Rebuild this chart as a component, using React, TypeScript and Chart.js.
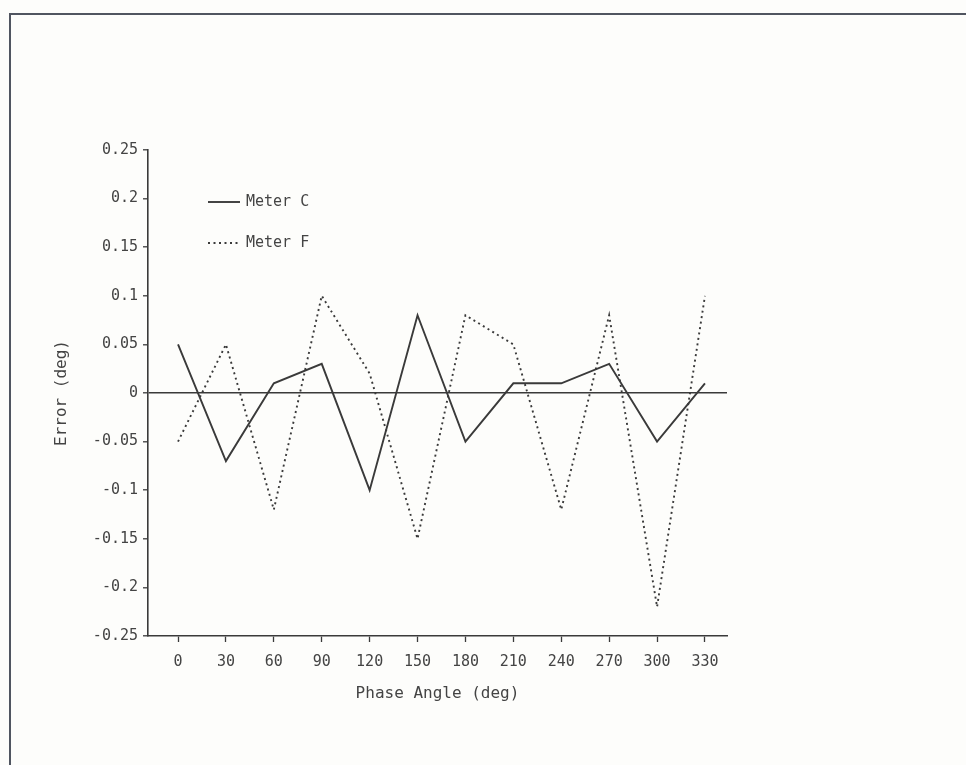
import React, { useEffect, useRef } from "react";
import { Chart, registerables } from "chart.js";

Chart.register(...registerables);

const phaseAngles = [0, 30, 60, 90, 120, 150, 180, 210, 240, 270, 300, 330];
const meterC = [0.05, -0.07, 0.01, 0.03, -0.1, 0.08, -0.05, 0.01, 0.01, 0.03, -0.05, 0.01];
const meterF = [-0.05, 0.05, -0.12, 0.1, 0.02, -0.15, 0.08, 0.05, -0.12, 0.08, -0.22, 0.1];
const seriesNames = ["Meter C", "Meter F"];
const xTitle = "Phase Angle (deg)";
const yTitle = "Error (deg)";

const INK = "#3a3a3a";
const TEXT = "#444444";
const FONT = "'DejaVu Sans Mono', monospace";

const legendPlugin = {
  id: "plotLegend",
  afterDraw(chart: any) {
    const ctx = chart.ctx;
    const area = chart.chartArea;
    const x0 = area.left + 60;
    const rows = [area.top + 52, area.top + 93];
    chart.data.datasets.forEach((ds: any, i: number) => {
      const y = rows[i];
      ctx.save();
      ctx.strokeStyle = ds.borderColor;
      ctx.lineWidth = ds.borderWidth;
      ctx.setLineDash(ds.borderDash || []);
      ctx.beginPath();
      ctx.moveTo(x0, y);
      ctx.lineTo(x0 + 32, y);
      ctx.stroke();
      ctx.setLineDash([]);
      ctx.fillStyle = TEXT;
      ctx.font = `15px ${FONT}`;
      ctx.textBaseline = "middle";
      ctx.textAlign = "left";
      ctx.fillText(ds.label, x0 + 38, y);
      ctx.restore();
    });
  },
};

export default function App() {
  const ref = useRef<HTMLCanvasElement | null>(null);

  useEffect(() => {
    document.body.style.background = "#fdfdfb";
    const canvas = ref.current!;
    const chart = new Chart(canvas, {
      type: "line",
      data: {
        datasets: [
          {
            label: seriesNames[0],
            data: phaseAngles.map((a, i) => ({ x: a, y: meterC[i] })),
            borderColor: INK,
            borderWidth: 1.9,
            pointRadius: 0,
            tension: 0,
          },
          {
            label: seriesNames[1],
            data: phaseAngles.map((a, i) => ({ x: a, y: meterF[i] })),
            borderColor: INK,
            borderWidth: 1.9,
            borderDash: [2, 3.5],
            pointRadius: 0,
            tension: 0,
          },
        ],
      },
      options: {
        animation: false,
        responsive: true,
        maintainAspectRatio: false,
        layout: { padding: { left: 50, top: 150, right: 239, bottom: 60 } },
        plugins: { legend: { display: false }, tooltip: { enabled: false } },
        scales: {
          x: {
            type: "linear",
            min: -18.8,
            max: 343.8,
            afterBuildTicks: (scale: any) => {
              scale.ticks = phaseAngles.map((v) => ({ value: v }));
            },
            afterFit: (scale: any) => {
              scale.height = 69;
            },
            grid: { drawOnChartArea: false, drawTicks: true, tickLength: 6, tickColor: INK, tickWidth: 1.3 },
            border: { display: true, color: INK, width: 1.6 },
            ticks: {
              autoSkip: false,
              maxRotation: 0,
              padding: 11,
              color: TEXT,
              font: { family: FONT, size: 15 },
              callback: (v: any) => String(v),
            },
            title: {
              display: true,
              text: xTitle,
              color: TEXT,
              font: { family: FONT, size: 16 },
              padding: { top: 0, bottom: 2 },
            },
          },
          y: {
            min: -0.25,
            max: 0.25,
            afterFit: (scale: any) => {
              scale.width = 98;
            },
            grid: {
              drawOnChartArea: true,
              drawTicks: true,
              tickLength: 5,
              tickColor: INK,
              tickWidth: 1.3,
              lineWidth: 1.6,
              color: (c: any) => (c.tick && Math.abs(c.tick.value) < 1e-9 ? INK : "rgba(0,0,0,0)"),
            },
            border: { display: true, color: INK, width: 1.6 },
            ticks: {
              stepSize: 0.05,
              padding: 5,
              color: TEXT,
              font: { family: FONT, size: 15 },
              callback: (v: any) => String(Number(Number(v).toFixed(2))),
            },
            title: {
              display: true,
              text: yTitle,
              color: TEXT,
              font: { family: FONT, size: 16 },
              padding: { top: 2, bottom: 0 },
            },
          },
        },
      },
      plugins: [legendPlugin],
    });
    return () => chart.destroy();
  }, []);

  return (
    <div style={{ position: "fixed", left: 0, top: 0, width: 966, height: 765, background: "#fdfdfb" }}>
      <div
        style={{
          position: "absolute",
          left: 9,
          top: 13,
          right: 0,
          bottom: 0,
          borderTop: "2px solid #505560",
          borderLeft: "2px solid #505560",
        }}
      />
      <canvas ref={ref} style={{ position: "absolute", left: 0, top: 0 }} />
    </div>
  );
}
